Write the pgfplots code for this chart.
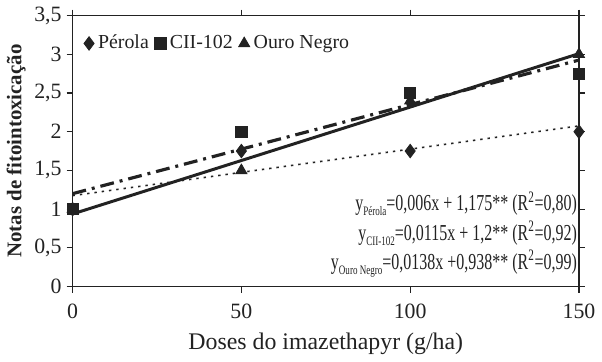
\documentclass[border=0pt]{standalone}
\usepackage{pgfplots}
\pgfplotsset{compat=1.18}
\usepackage{fontspec}
\usepackage{graphicx}
\setmainfont{Liberation Serif}
\definecolor{ink}{HTML}{222222}
\newcommand{\eq}[1]{\scalebox{0.7}[1]{#1}}
\newcommand{\sub}[1]{\raisebox{-2.5pt}{\fontsize{6.5}{7}\selectfont #1}}
\begin{document}
\begin{tikzpicture}[x=1pt,y=1pt]
\begin{axis}[
  scale only axis,
  width=255pt, height=136.5pt,
  xmin=0, xmax=150, ymin=0, ymax=3.5,
  xtick={0,50,100,150},
  ytick={0,0.5,1,1.5,2,2.5,3,3.5},
  yticklabels={0,{0,5},1,{1,5},2,{2,5},3,{3,5}},
  /pgf/number format/assume math mode=true,
  tick align=outside,
  tick style={ink, line width=0.6pt},
  major tick length=3pt,
  axis line style={ink, line width=0.7pt},
  ticklabel style={font=\fontsize{11}{13}\selectfont, text=ink},
  xticklabel style={yshift=-2pt},
  yticklabel style={xshift=1pt},
  xlabel={Doses do imazethapyr (g/ha)},
  ylabel={\textbf{Notas de fitointoxicação}},
  xlabel style={font=\fontsize{12}{14}\selectfont, text=ink, yshift=-0.5pt},
  ylabel style={font=\fontsize{10.5}{12}\selectfont, text=ink, yshift=-2.5pt},
  legend columns=3,
  legend style={draw=none, fill=none, at={(0.01,0.897)}, anchor=west,
    font=\fontsize{10}{12}\selectfont, text=ink,
    /tikz/every even column/.append style={column sep=1pt}},
  legend image code/.code={\draw[#1] plot coordinates {(0pt,0pt)};},
  clip=false,
]
\addplot[only marks, mark=diamond*, mark size=3.4pt, ink] coordinates {(0,1) (50,1.75) (100,1.75) (150,2)};
\addlegendentry{Pérola}
\addplot[only marks, mark=square*, mark size=2.8pt, ink] coordinates {(0,1) (50,2) (100,2.5) (150,2.75)};
\addlegendentry{CII-102}
\addplot[only marks, mark=triangle*, mark size=3.2pt, ink] coordinates {(0,1) (50,1.5) (100,2.4) (150,3)};
\addlegendentry{Ouro Negro}
\addplot[forget plot, ink, line width=0.8pt, dash pattern=on 1.2pt off 2.5pt] coordinates {(0,1.175) (150,2.075)};
\addplot[forget plot, ink, line width=1.6pt, dash pattern=on 7pt off 3pt on 1.5pt off 3pt] coordinates {(0,1.2) (150,2.925)};
\addplot[forget plot, ink, line width=1.5pt] coordinates {(0,0.938) (150,3.008)};
\node[anchor=east, inner sep=0pt, font=\fontsize{11.5}{13}\selectfont, text=ink] at (axis cs:149.5,1.07) {\eq{y\sub{Pérola}=0,006x + 1,175** (R\textsuperscript{2}=0,80)}};
\node[anchor=east, inner sep=0pt, font=\fontsize{11.5}{13}\selectfont, text=ink] at (axis cs:149.5,0.69) {\eq{y\sub{CII-102}=0,0115x + 1,2** (R\textsuperscript{2}=0,92)}};
\node[anchor=east, inner sep=0pt, font=\fontsize{11.5}{13}\selectfont, text=ink] at (axis cs:149.5,0.30) {\eq{y\sub{Ouro Negro}=0,0138x +0,938** (R\textsuperscript{2}=0,99)}};
\end{axis}
\end{tikzpicture}
\end{document}
